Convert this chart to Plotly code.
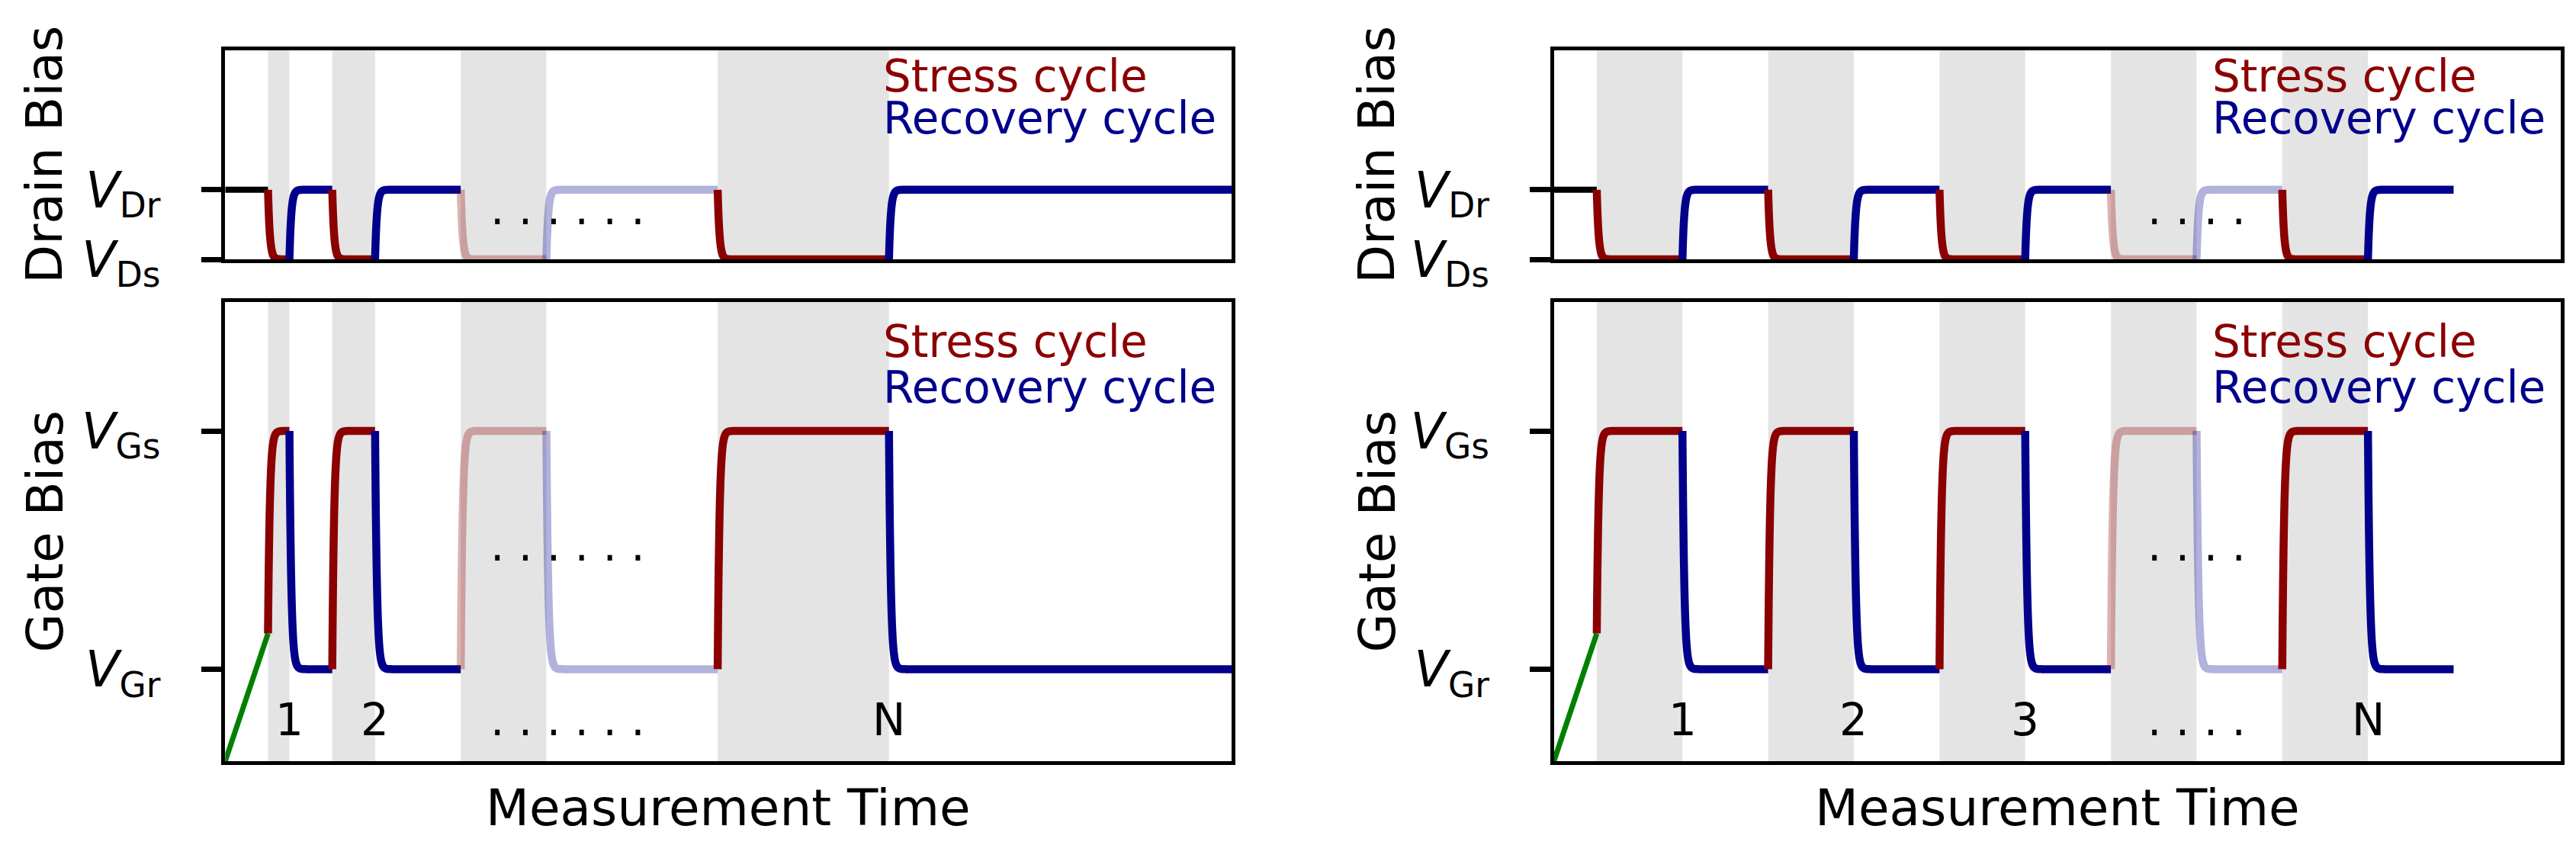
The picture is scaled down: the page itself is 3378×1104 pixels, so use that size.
import numpy as np
import plotly.graph_objects as go

# ---------------- data ----------------
X_MAX = 47.0
TAU = 0.085                    # transition time constant (time units)

V_DS, V_DR = 0.0, 1.0          # drain levels
DRAIN_RANGE = [0.0, 3.0]
V_GR, V_GS = 0.0, 1.0          # gate levels
GATE_RANGE = [-0.386, 1.541]
RAMP_END = 0.15                # gate level reached by the initial ramp

drain_tickvals = [V_DS, V_DR]
drain_ticktext = ["<i>V</i><sub>Ds</sub>", "<i>V</i><sub>Dr</sub>"]
gate_tickvals = [V_GR, V_GS]
gate_ticktext = ["<i>V</i><sub>Gr</sub>", "<i>V</i><sub>Gs</sub>"]

left_stress_start = [2, 5, 11, 23]
left_stress_end = [3, 7, 15, 31]
left_recovery_end = [5, 11, 23, 47]
left_faded = [False, False, True, False]
left_labels = ["1", "2", ". . . . . .", "N"]
left_label_x = [3, 7, 16, 31]
left_dots_x = 16
left_dots = ". . . . . ."

right_stress_start = [2, 10, 18, 26, 34]
right_stress_end = [6, 14, 22, 30, 38]
right_recovery_end = [10, 18, 26, 34, 42]
right_faded = [False, False, False, True, False]
right_labels = ["1", "2", "3", ". . . .", "N"]
right_label_x = [6, 14, 22, 30, 38]
right_dots_x = 30
right_dots = ". . . ."

LABEL_Y = -0.282          # baseline of cycle labels (gate units)
DRAIN_DOTS_Y = 0.492
GATE_DOTS_Y = 0.452

# ---------------- styling ----------------
W, H = 3378, 1104
PAGE_OFFSET = 8            # default body margin of the html page
FONT = "DejaVu Sans"
RED = (139, 0, 0)
BLUE = (0, 0, 139)
FADE = 0.3
LW = 10.5
SPINE = 4.5
TXT = 58
TITLE = 66
TICKFS = 65


def col(c, faded):
    a = FADE if faded else 1.0
    return f"rgba({c[0]},{c[1]},{c[2]},{a})"


def transition(t0, t1, y_from, y_to):
    span = min(1.0, t1 - t0)
    t = np.concatenate([t0 + np.linspace(0, span, 201), [t1]])
    y = y_to + (y_from - y_to) * np.exp(-(t - t0) / TAU)
    return t, y


def px_x(p):
    return (p - PAGE_OFFSET) / W


def px_y(p):
    return 1 - (p - PAGE_OFFSET) / H


panels = [
    dict(x0=295.3, x1=1615.0, title_x=58.5,
         ss=left_stress_start, se=left_stress_end, re=left_recovery_end,
         faded=left_faded, labels=left_labels, lx=left_label_x,
         dots=left_dots, dots_x=left_dots_x, n=(1, 2)),
    dict(x0=2037.7, x1=3358.0, title_x=1805.6,
         ss=right_stress_start, se=right_stress_end, re=right_recovery_end,
         faded=right_faded, labels=right_labels, lx=right_label_x,
         dots=right_dots, dots_x=right_dots_x, n=(3, 4)),
]

TOP_Y = (66.3, 340.0)
BOT_Y = (396.0, 998.0)

fig = go.Figure()
shapes = []
annotations = []
layout_axes = {}


def axname(k, a):
    return a if k == 1 else f"{a}{k}"


def line_trace(x, y, color, width, xa, ya):
    return go.Scatter(x=x, y=y, mode="lines",
                      line=dict(color=color, width=width, simplify=False),
                      xaxis=xa, yaxis=ya, hoverinfo="skip")


for p in panels:
    kt, kb = p["n"]
    xt, yt = axname(kt, "x"), axname(kt, "y")
    xb, yb = axname(kb, "x"), axname(kb, "y")

    # initial segments
    fig.add_trace(line_trace([0, p["ss"][0]], [V_DR, V_DR], "black", 8, xt, yt))
    fig.add_trace(line_trace([0, p["ss"][0]], [GATE_RANGE[0], RAMP_END], "green", 7, xb, yb))

    for i, (ss, se, re, fd) in enumerate(zip(p["ss"], p["se"], p["re"], p["faded"])):
        t, y = transition(ss, se, V_DR, V_DS)
        fig.add_trace(line_trace(t, y, col(RED, fd), LW, xt, yt))
        g0 = RAMP_END if i == 0 else V_GR
        t, y = transition(ss, se, g0, V_GS)
        fig.add_trace(line_trace(t, y, col(RED, fd), LW, xb, yb))
        t, y = transition(se, re, V_DS, V_DR)
        fig.add_trace(line_trace(t, y, col(BLUE, fd), LW, xt, yt))
        t, y = transition(se, re, V_GS, V_GR)
        fig.add_trace(line_trace(t, y, col(BLUE, fd), LW, xb, yb))

        for xr, yr in ((xt, yt), (xb, yb)):
            shapes.append(dict(type="rect", xref=xr, yref=f"{yr} domain",
                               x0=ss, x1=se, y0=0, y1=1,
                               fillcolor="rgba(0,0,0,0.105)", line=dict(width=0),
                               layer="below"))

    xdom = [px_x(p["x0"]), px_x(p["x1"])]
    common_x = dict(range=[0, X_MAX], showticklabels=False, ticks="",
                    showline=True, linecolor="black", linewidth=SPINE, mirror=True,
                    showgrid=False, zeroline=False, domain=xdom, automargin=False)
    common_y = dict(ticks="outside", ticklen=27, tickwidth=6.5, tickcolor="black",
                    showline=True, linecolor="black", linewidth=SPINE, mirror=True,
                    showgrid=False, zeroline=False, automargin=False,
                    tickfont=dict(family=FONT, size=TICKFS, color="black"),
                    ticklabelstandoff=40)
    layout_axes["xaxis" if kt == 1 else f"xaxis{kt}"] = dict(common_x, anchor=yt)
    layout_axes[f"xaxis{kb}"] = dict(common_x, anchor=yb)
    layout_axes["yaxis" if kt == 1 else f"yaxis{kt}"] = dict(
        common_y, anchor=xt, range=DRAIN_RANGE, tickvals=drain_tickvals,
        ticktext=drain_ticktext, domain=[px_y(TOP_Y[1]), px_y(TOP_Y[0])])
    layout_axes[f"yaxis{kb}"] = dict(
        common_y, anchor=xb, range=GATE_RANGE, tickvals=gate_tickvals,
        ticktext=gate_ticktext, domain=[px_y(BOT_Y[1]), px_y(BOT_Y[0])])

    shift = -(0.236 * TXT + 1)
    for yr, ys, yrc in ((yt, 0.798, 0.597), (yb, 0.878, 0.778)):
        annotations.append(dict(text="Stress cycle", xref=f"{xt} domain", yref=f"{yr} domain",
                                x=0.652, y=ys, xanchor="left", yanchor="bottom", yshift=shift,
                                showarrow=False,
                                font=dict(family=FONT, size=TXT, color=col(RED, False))))
        annotations.append(dict(text="Recovery cycle", xref=f"{xt} domain", yref=f"{yr} domain",
                                x=0.652, y=yrc, xanchor="left", yanchor="bottom", yshift=shift,
                                showarrow=False,
                                font=dict(family=FONT, size=TXT, color=col(BLUE, False))))
    annotations.append(dict(text=p["dots"], xref=xt, yref=yt, x=p["dots_x"], y=DRAIN_DOTS_Y,
                            xanchor="center", yanchor="bottom", yshift=shift, showarrow=False,
                            font=dict(family=FONT, size=TXT, color="black")))
    annotations.append(dict(text=p["dots"], xref=xb, yref=yb, x=p["dots_x"], y=GATE_DOTS_Y,
                            xanchor="center", yanchor="bottom", yshift=shift, showarrow=False,
                            font=dict(family=FONT, size=TXT, color="black")))
    for lab, lx in zip(p["labels"], p["lx"]):
        annotations.append(dict(text=lab, xref=xb, yref=yb, x=lx, y=LABEL_Y,
                                xanchor="center", yanchor="bottom", yshift=shift,
                                showarrow=False,
                                font=dict(family=FONT, size=TXT, color="black")))
    annotations.append(dict(text="Drain Bias", xref="paper", yref="paper",
                            x=px_x(p["title_x"]), y=px_y((TOP_Y[0] + TOP_Y[1]) / 2),
                            textangle=-90, xanchor="center", yanchor="middle", showarrow=False,
                            font=dict(family=FONT, size=TITLE, color="black")))
    annotations.append(dict(text="Gate Bias", xref="paper", yref="paper",
                            x=px_x(p["title_x"]), y=px_y((BOT_Y[0] + BOT_Y[1]) / 2),
                            textangle=-90, xanchor="center", yanchor="middle", showarrow=False,
                            font=dict(family=FONT, size=TITLE, color="black")))
    annotations.append(dict(text="Measurement Time", xref="paper", yref="paper",
                            x=px_x((p["x0"] + p["x1"]) / 2), y=px_y(1082.7 - 0.346 * TITLE),
                            xanchor="center", yanchor="middle", showarrow=False,
                            font=dict(family=FONT, size=TITLE, color="black")))

fig.update_layout(
    template="none",
    width=W, height=H,
    margin=dict(l=0, r=0, t=0, b=0, pad=0, autoexpand=False),
    paper_bgcolor="white", plot_bgcolor="white",
    showlegend=False,
    shapes=shapes,
    annotations=annotations,
    font=dict(family=FONT, color="black"),
    **layout_axes,
)

fig.write_html("out.html", config={"responsive": False, "displayModeBar": False})
